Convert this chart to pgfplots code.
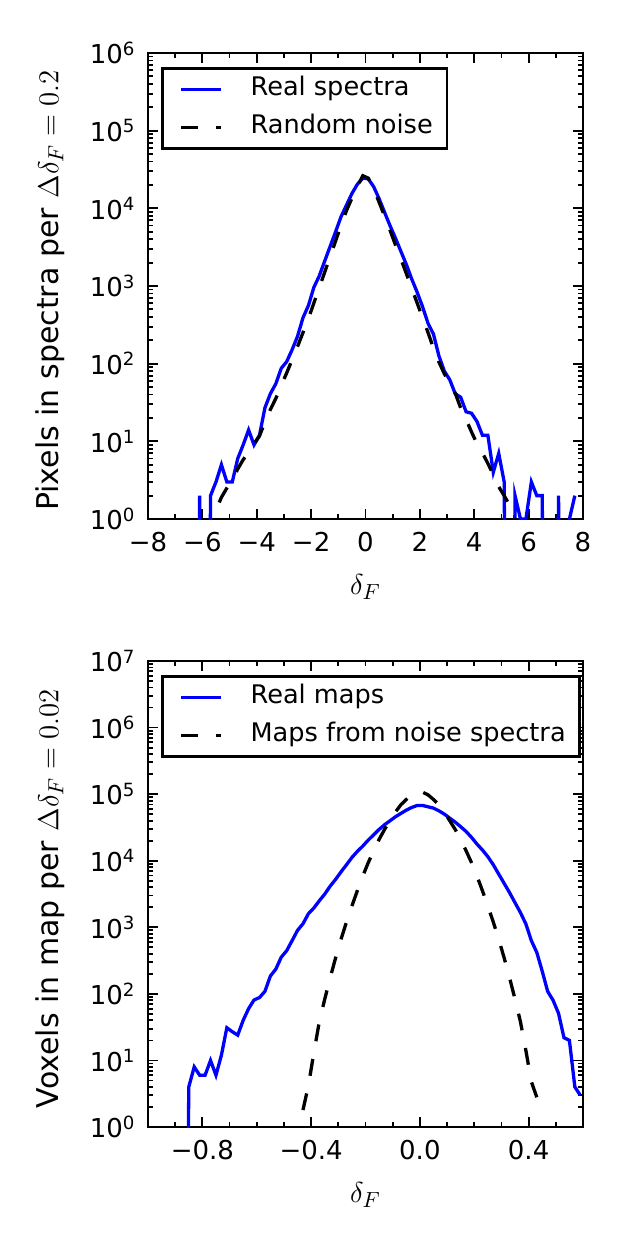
\documentclass[border=0pt]{standalone}
\usepackage{fontspec}
\setmainfont{DejaVu Sans}
\usepackage{pgfplots}
\pgfplotsset{compat=1.18}

\pgfplotstableread{
x y
-6.3 1e-9
-6.1 2
-5.9 1e-9
-5.7 2
-5.5 3
-5.3 5
-5.1 3
-4.9 3
-4.7 6
-4.5 9
-4.3 14
-4.1 9
-3.9 12
-3.7 27
-3.5 41
-3.3 55
-3.1 87
-2.9 106
-2.7 151
-2.5 225
-2.3 390
-2.1 560
-1.9 960
-1.7 1350
-1.5 2100
-1.3 3240
-1.1 5000
-0.9 7800
-0.7 11000
-0.5 15500
-0.3 20400
-0.1 24500
0.1 24000
0.3 19000
0.5 13300
0.7 8900
0.9 6000
1.1 4150
1.3 2800
1.5 1900
1.7 1230
1.9 830
2.1 540
2.3 330
2.5 240
2.7 126
2.9 80
3.1 62
3.3 41
3.5 37
3.7 24
3.9 23
4.1 18
4.3 12
4.5 12
4.7 4
4.9 7
5.1 3
5.3 1e-9
5.5 2
5.7 1
5.9 1
6.1 3
6.3 2
6.5 2
6.7 1e-9
6.9 1e-9
7.1 2
7.3 1e-9
7.5 1
7.7 2
}\realspectra

\pgfplotstableread{
x y
-5.7 0.6
-5.5 1.3
-5.3 1.9
-5.1 2.5
-4.9 3.2
-4.7 4.4
-4.5 5.8
-4.3 7.2
-4.1 9.3
-3.9 11.7
-3.7 17.8
-3.5 25.7
-3.3 35.5
-3.1 52.5
-2.9 75.9
-2.7 112
-2.5 166
-2.3 251
-2.1 380
-1.9 603
-1.7 955
-1.5 1510
-1.3 2400
-1.1 3800
-0.9 6030
-0.7 9330
-0.5 13500
-0.3 19100
-0.1 26300
0.1 24500
0.3 17800
0.5 12000
0.7 7940
0.9 5250
1.1 3390
1.3 2240
1.5 1450
1.7 933
1.9 603
2.1 389
2.3 251
2.5 158
2.7 105
2.9 74
3.1 55
3.3 41.7
3.5 26.9
3.7 19.1
3.9 13.2
4.1 9.3
4.3 7.1
4.5 5.2
4.7 3.7
4.9 2.6
5.1 2.0
5.3 1.5
5.5 1.0
5.7 0.6
}\randomnoise

\pgfplotstableread{
x y
-0.87 1e-9
-0.85 4
-0.83 8
-0.81 6
-0.79 6
-0.77 10
-0.75 6
-0.73 12
-0.71 31
-0.69 27
-0.67 24
-0.65 40
-0.63 60
-0.61 81
-0.59 88
-0.57 109
-0.55 185
-0.53 235
-0.51 355
-0.49 445
-0.47 630
-0.45 900
-0.43 1130
-0.41 1600
-0.39 1950
-0.37 2500
-0.35 3150
-0.33 4150
-0.31 5250
-0.29 6800
-0.27 8700
-0.25 11200
-0.23 13800
-0.21 16600
-0.19 20400
-0.17 24500
-0.15 29500
-0.13 34700
-0.11 39800
-0.09 45700
-0.07 51300
-0.05 57500
-0.03 63100
-0.01 67600
0.01 67600
0.03 64600
0.05 61700
0.07 56200
0.09 50100
0.11 43600
0.13 38000
0.15 32400
0.17 27500
0.19 22400
0.21 17800
0.23 14500
0.25 11500
0.27 8700
0.29 6300
0.31 4570
0.33 3310
0.35 2340
0.37 1660
0.39 1120
0.41 630
0.43 420
0.45 219
0.47 109
0.49 80
0.51 51
0.53 22
0.55 20
0.57 4
0.59 3
}\realmaps

\pgfplotstableread{
x y
-0.43 1.8
-0.41 4.2
-0.39 13
-0.37 38
-0.35 83
-0.33 174
-0.31 347
-0.29 661
-0.27 1200
-0.25 2090
-0.23 3550
-0.21 5890
-0.19 9330
-0.17 14100
-0.15 20900
-0.13 29500
-0.11 39800
-0.09 53700
-0.07 69200
-0.05 83200
-0.03 97700
-0.01 107000
0.01 107000
0.03 97700
0.05 83200
0.07 69200
0.09 53700
0.11 39800
0.13 29500
0.15 20900
0.17 14100
0.19 9330
0.21 5890
0.23 3550
0.25 2090
0.27 1200
0.29 661
0.31 347
0.33 174
0.35 83
0.37 38
0.39 14
0.41 4.8
0.43 2.8
}\noisemaps

\pgfplotsset{
  width=217.5pt, height=233pt, scale only axis,
  axis line style={line width=1.3pt},
  every tick/.append style={black, line width=0.9pt},
  major tick length=5pt, minor tick length=2.5pt,
  tick align=inside,
  tick label style={font=\fontsize{13}{15}\selectfont},
  label style={font=\fontsize{15}{18}\selectfont},
  xticklabel style={yshift=-3pt},
  yticklabel style={xshift=-2.7pt},
  xlabel style={at={(axis description cs:0.5,0)}, anchor=center, yshift=-34pt},
  legend cell align=left,
  legend style={at={(0,1)}, anchor=north west, xshift=6.5pt, yshift=-7pt,
    draw=black, line width=1.3pt, inner xsep=7pt, inner ysep=4.5pt,
    row sep=7pt, font=\fontsize{12.8}{15}\selectfont,
    nodes={inner sep=0pt, text height=9.3pt, text depth=2.7pt}},
  legend image code/.code={\draw[#1] (1.5pt,0pt) -- (21.5pt,0pt); \path (0pt,0pt) (35.5pt,0pt);},
}
\tikzset{
  realline/.style={color={rgb,1:red,0;green,0;blue,1}, line width=1.65pt},
  noiseline/.style={black, line width=1.65pt, dash pattern=on 8.5pt off 9pt},
}

\begin{document}
\begin{tikzpicture}
\useasboundingbox (0,0) rectangle (311.5pt,-623pt);

\begin{axis}[ymode=log,
  at={(74pt,-26.5pt)}, anchor=north west,
  xmin=-8, xmax=8, ymin=1, ymax=1e6,
  xtick={-8,-6,-4,-2,0,2,4,6,8},
  xticklabels={−8,−6,−4,−2,0,2,4,6,8},
  minor xtick={-7,-5,-3,-1,1,3,5,7},
  ytick={1,10,100,1000,10000,100000,1000000},
  yticklabels={10\textsuperscript{0},10\textsuperscript{1},10\textsuperscript{2},10\textsuperscript{3},10\textsuperscript{4},10\textsuperscript{5},10\textsuperscript{6}},
  minor ytick={2,3,4,5,6,7,8,9,20,30,40,50,60,70,80,90,200,300,400,500,600,700,800,900,2e3,3e3,4e3,5e3,6e3,7e3,8e3,9e3,2e4,3e4,4e4,5e4,6e4,7e4,8e4,9e4,2e5,3e5,4e5,5e5,6e5,7e5,8e5,9e5},
  xlabel={$\delta_F$},
  ylabel={Pixels in spectra per $\Delta\delta_F = 0.2$},
  ylabel style={at={(axis description cs:-0.225,0.49)}, anchor=center},
]
\addplot[realline] table[x=x,y=y] {\realspectra};
\addlegendentry{Real spectra}
\addplot[noiseline] table[x=x,y=y] {\randomnoise};
\addlegendentry{Random noise}
\end{axis}

\begin{axis}[ymode=log,
  at={(74pt,-330.5pt)}, anchor=north west,
  xmin=-1, xmax=0.6, ymin=1, ymax=1e7,
  xtick={-0.8,-0.4,0,0.4},
  xticklabels={−0.8,−0.4,0.0,0.4},
  minor xtick={-1,-0.9,-0.7,-0.6,-0.5,-0.3,-0.2,-0.1,0.1,0.2,0.3,0.5,0.6},
  ytick={1,10,100,1000,10000,100000,1000000,10000000},
  yticklabels={10\textsuperscript{0},10\textsuperscript{1},10\textsuperscript{2},10\textsuperscript{3},10\textsuperscript{4},10\textsuperscript{5},10\textsuperscript{6},10\textsuperscript{7}},
  minor ytick={2,3,4,5,6,7,8,9,20,30,40,50,60,70,80,90,200,300,400,500,600,700,800,900,2e3,3e3,4e3,5e3,6e3,7e3,8e3,9e3,2e4,3e4,4e4,5e4,6e4,7e4,8e4,9e4,2e5,3e5,4e5,5e5,6e5,7e5,8e5,9e5,2e6,3e6,4e6,5e6,6e6,7e6,8e6,9e6},
  xlabel={$\delta_F$},
  ylabel={Voxels in map per $\Delta\delta_F = 0.02$},
  ylabel style={at={(axis description cs:-0.225,0.49)}, anchor=center},
]
\addplot[realline] table[x=x,y=y] {\realmaps};
\addlegendentry{Real maps}
\addplot[noiseline] table[x=x,y=y] {\noisemaps};
\addlegendentry{Maps from noise spectra}
\end{axis}
\end{tikzpicture}
\end{document}
